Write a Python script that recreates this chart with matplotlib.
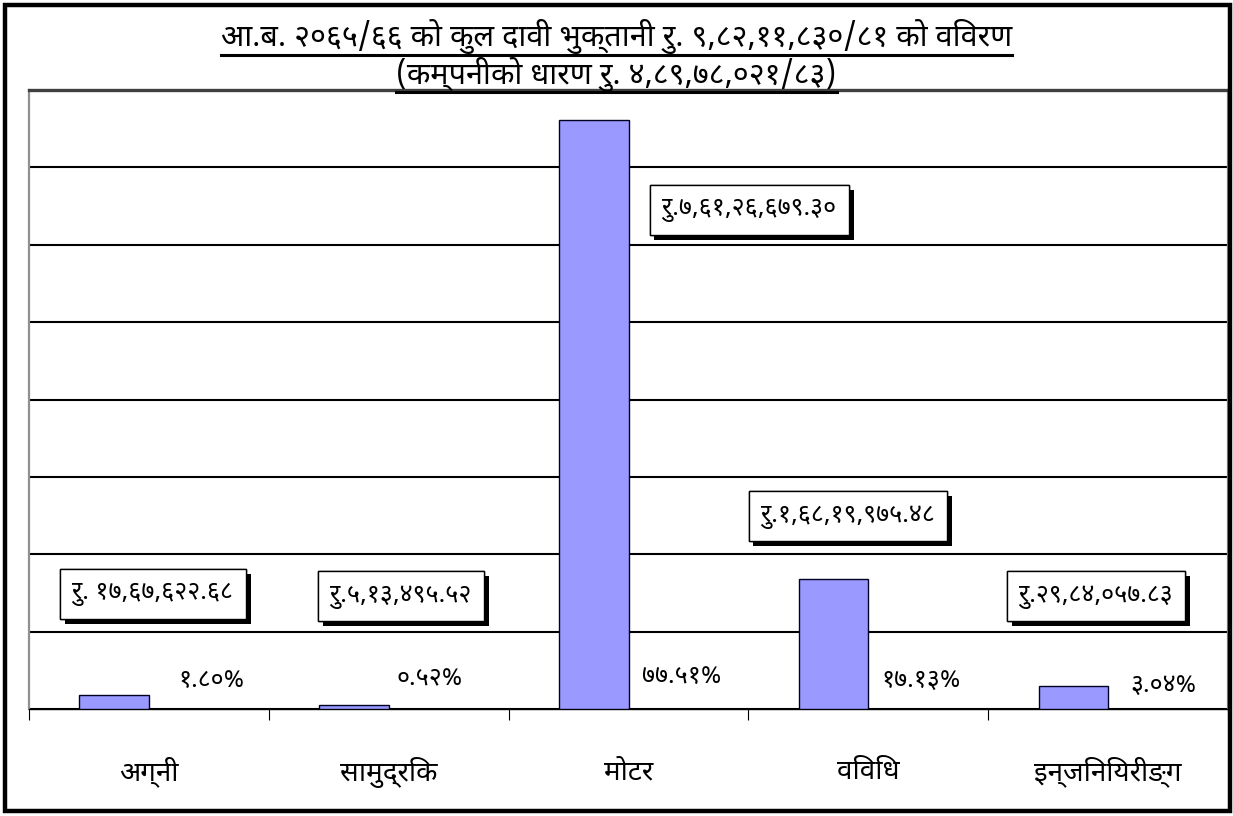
import matplotlib
matplotlib.use("Agg")
import matplotlib.pyplot as plt
import matplotlib.patheffects as pe
from matplotlib.lines import Line2D
from matplotlib.patches import Rectangle

# ── Data ──
categories = ["अग्नी", "सामुद्रिक", "मोटर", "विविध", "इन्जिनियरीङ्ग"]
amounts = [1767622.68, 513495.52, 76126679.30, 16819975.48, 2984057.83]
amount_labels = ["रु. १७,६७,६२२.६८", "रु.५,१३,४९५.५२", "रु.७,६१,२६,६७९.३०",
                 "रु.१,६८,१९,९७५.४८", "रु.२९,८४,०५७.८३"]
pct_labels = ["१.८०%", "०.५२%", "७७.५१%", "१७.१३%", "३.०४%"]
title_1 = "आ.ब. २०६५/६६ को कुल दावी भुक्तानी रु. ९,८२,११,८३०/८१ को विवरण"
title_2 = "(कम्पनीको धारण रु. ४,८९,७८,०२१/८३)"

# ── Label placement (layout only) ──
box_xy = [(0.017, 14.9e6), (1.051, 14.6e6), (2.503, 64.5e6), (2.915, 24.9e6), (3.950, 14.6e6)]
pct_xy = [(0.26, 3.75e6), (1.17, 3.9e6), (2.22, 4.2e6), (3.22, 3.75e6), (4.23, 3.0e6)]

plt.rcParams["font.family"] = ["Noto Sans Devanagari", "DejaVu Sans"]

fig = plt.figure(figsize=(12.33, 8.16), dpi=100)
ax = fig.add_axes([29 / 1233, 107 / 816, 1199 / 1233, 619 / 816])

x = list(range(len(categories)))
ax.bar([i - 0.29 for i in x], amounts, width=0.29, align="edge",
       color="#9999FF", edgecolor="#000022", linewidth=1.0, zorder=3)

ax.set_xlim(-0.5, 4.5)
ax.set_ylim(0, 80e6)
ax.set_yticks([i * 10e6 for i in range(9)])
ax.yaxis.grid(True, color="black", linewidth=1.5, zorder=1)
ax.tick_params(axis="y", left=False, labelleft=False)
ax.set_xticks([-0.5, 0.5, 1.5, 2.5, 3.5, 4.5])
ax.tick_params(axis="x", direction="out", length=8, width=0.8, labelbottom=False)
for side in ["left", "right"]:
    ax.spines[side].set_color("#909090")
    ax.spines[side].set_linewidth(1.6)
ax.spines["top"].set_color("#404040")
ax.spines["top"].set_linewidth(2.4)
ax.spines["bottom"].set_color("black")
ax.spines["bottom"].set_linewidth(1.0)

for i, name in enumerate(categories):
    ax.text(i, -0.102, name, transform=ax.get_xaxis_transform(),
            ha="center", va="center", fontsize=20)

for (bx, by), lab in zip(box_xy, amount_labels):
    t = ax.text(bx, by, lab, ha="center", va="center", fontsize=18, zorder=5,
                bbox=dict(boxstyle="square,pad=0.5", fc="white", ec="black", lw=1.0))
    t.get_bbox_patch().set_path_effects(
        [pe.withSimplePatchShadow(offset=(3.5, -3.5), shadow_rgbFace="black", alpha=1.0),
         pe.Normal()])

for (px, py), lab in zip(pct_xy, pct_labels):
    ax.text(px, py, lab, ha="center", va="center", fontsize=18, zorder=5)

# ── Titles with underline ──
t1 = fig.text(0.5, 1 - 37 / 816, title_1, ha="center", va="center", fontsize=22)
t2 = fig.text(0.5, 1 - 75 / 816, title_2, ha="center", va="center", fontsize=22)
fig.canvas.draw()
renderer = fig.canvas.get_renderer()
W, H = fig.bbox.width, fig.bbox.height
for t, uy in [(t1, 55), (t2, 92)]:
    bb = t.get_window_extent(renderer)
    fig.add_artist(Line2D([bb.x0 / W, bb.x1 / W], [1 - uy / H, 1 - uy / H],
                          transform=fig.transFigure, color="black", linewidth=2.2))

# ── Outer frame ──
fig.add_artist(Rectangle((5 / W, 5 / H), 1 - 8 / W, 1 - 10 / H,
                         transform=fig.transFigure, fill=False,
                         edgecolor="black", linewidth=3.2))

fig.savefig("out.png", dpi=100)
